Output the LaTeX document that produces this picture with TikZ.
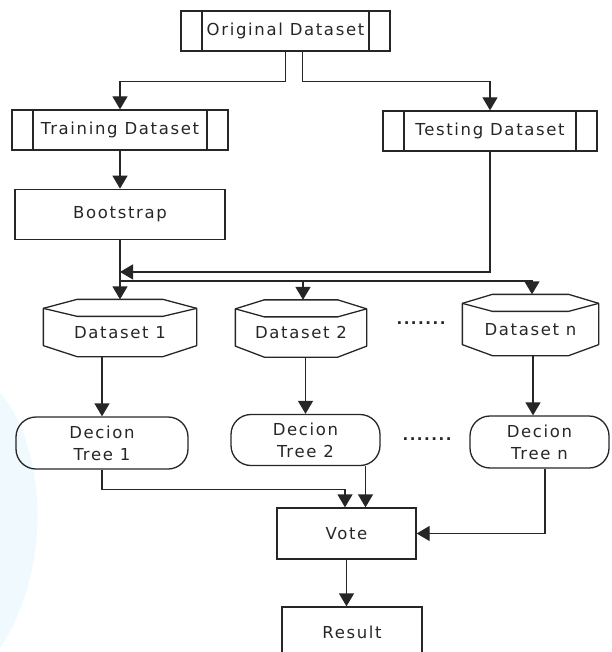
\documentclass[tikz,border=0pt]{standalone}
\usepackage{fontspec}
\setmainfont{DejaVu Sans}[LetterSpace=10]
\usetikzlibrary{arrows.meta, positioning, calc}

\begin{document}
\begin{tikzpicture}[x=1pt, y=-1pt, line width=1.3pt, draw=black!85,
		font=\fontsize{16.5}{22}\selectfont, text=black!85]

	\tikzset{
		arr/.style={-{Triangle[width=15pt,length=13pt]}},
		predef/.style={
				draw, minimum height=40pt, inner sep=0pt,
				path picture={
						\draw ([xshift=21pt]path picture bounding box.north west) -- ([xshift=21pt]path picture bounding box.south west);
						\draw ([xshift=-21pt]path picture bounding box.north east) -- ([xshift=-21pt]path picture bounding box.south east);
					}
			},
		procbox/.style={
				draw, inner sep=0pt, minimum height=50pt
			},
		database/.style={
				inner sep=0pt, minimum height=56pt
			},
		terminal/.style={
				draw, rounded corners=20pt, align=center, inner sep=0pt, minimum height=52pt
			},
		ellipsis/.style={
				font=\bfseries\fontsize{15}{18}\selectfont, inner sep=0pt
			},
	}
	\useasboundingbox (0,0) rectangle (611,652);
	\fill[cyan!6] (0,392) .. controls (48,450) and (52,570) .. (0,648) -- cycle;

	\node[predef, minimum width=209pt] (orig) at (285.5,31) {Original Dataset};
	\node[predef, minimum width=216pt] (train) at (120,130) {Training Dataset};
	\node[predef, minimum width=214pt] (test) at (490,131) {Testing Dataset};
	\node[procbox, minimum width=210pt, below=38pt of train] (boot) {Bootstrap};

	\node[database, minimum width=152pt] (ds1) at (120,328) {\raisebox{-10pt}[0pt][0pt]{Dataset 1}};
	\node[database, minimum width=130pt] (ds2) at (301,328.5) {\raisebox{-10pt}[0pt][0pt]{Dataset 2}};
	\node[database, minimum width=135pt, minimum height=60pt] (dsn) at (530.5,325) {\raisebox{-10pt}[0pt][0pt]{Dataset n}};
	\node[ellipsis] (dotsA) at (421,323) {.......};

	\node[terminal, minimum width=172pt] (dt1) at (102,443) {Decion\\Tree 1};
	\node[terminal, minimum width=149pt, minimum height=51pt] (dt2) at (305.5,440) {Decion\\Tree 2};
	\node[terminal, minimum width=139pt] (dtn) at (539.5,442) {Decion\\Tree n};
	\node[ellipsis] (dotsB) at (427,439) {.......};

	\node[procbox, minimum width=139pt, minimum height=51pt] (vote) at (346.5,533.5) {Vote};
	\node[procbox, minimum width=140pt] (result) at (352,632) {Result};

	% stored data outlines
	\foreach \n in {ds1,ds2,dsn} {
			\draw[line join=round] ($(\n.north west)+(0,9)$) -- ($(\n.north west)!0.22!(\n.north east)$) -- ($(\n.north west)!0.78!(\n.north east)$) -- ($(\n.north east)+(0,9)$)
			-- ($(\n.south east)+(0,-11)$) -- ($(\n.south west)!0.78!(\n.south east)$) -- ($(\n.south west)!0.22!(\n.south east)$) -- ($(\n.south west)+(0,-11)$) -- cycle;
			\draw[line join=round] ($(\n.north west)+(0,9)$) -- ($(\n.north west)!0.22!(\n.north east)+(0,17)$) -- ($(\n.north west)!0.78!(\n.north east)+(0,17)$) -- ($(\n.north east)+(0,9)$);
		}

	\coordinate (merge) at ($(boot.south)+(0,32)$);
	\coordinate (split) at ($(boot.south)+(0,41)$);

	\draw[arr] (orig.south) -- ++(0,30) -| (train.north);
	\draw[arr] ([xshift=17pt]orig.south) -- ++(0,30) -| (test.north);
	\draw[arr] (train) -- (boot);

	\draw[arr] (test.south) |- (merge);
	\draw[arr] (boot.south) -- (ds1.north);
	\draw[arr] (split) -| ([xshift=2pt]ds2.north);
	\draw[arr] (split) -| ([xshift=1.5pt]dsn.north);

	\draw[arr] (ds1.south -| dt1.north) -- (dt1.north);
	\draw[arr] (ds2.south -| dt2.north) -- (dt2.north);
	\draw[arr] ([xshift=2.5pt]dsn.south) -- ([xshift=2.5pt]dsn.south |- dtn.north);

	\draw[arr] (dt1.south) -- ++(0,20) -| ([xshift=-1.5pt]vote.north);
	\draw[arr] ([xshift=60pt]dt2.south) -- ([xshift=60pt]dt2.south |- vote.north);
	\draw[arr] ([xshift=5.5pt]dtn.south) |- (vote.east);
	\draw[arr] (vote.south) -- (vote.south |- result.north);

\end{tikzpicture}
\end{document}
